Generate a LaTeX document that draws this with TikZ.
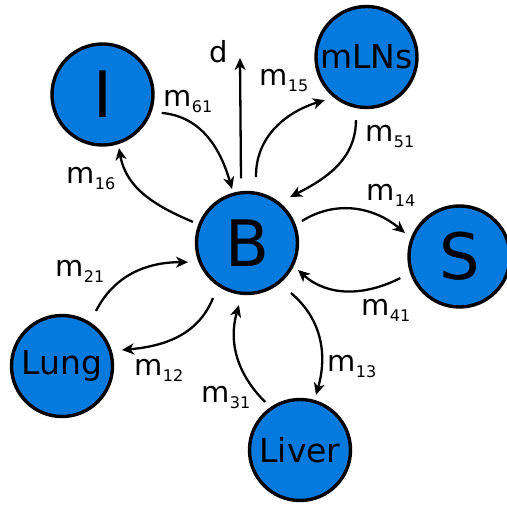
\documentclass[tikz,border=0pt]{standalone}
\usepackage{fontspec}
\setmainfont{DejaVu Sans}
\usetikzlibrary{arrows.meta}
\definecolor{compblue}{RGB}{4,122,222}
% transfer-rate label: m with a lowered index
\newcommand\mrate[1]{m\kern0.5pt\raisebox{-5.5pt}{\fontsize{16}{16}\selectfont #1}}

\begin{document}
\begin{tikzpicture}[x=1pt,y=1pt,
  comp/.style={circle, draw=black, line width=3.4pt, fill=compblue,
               minimum size=101pt, inner sep=0pt, outer sep=0pt},
  bigtxt/.style={font=\fontsize{64}{64}\selectfont},
  midtxt/.style={font=\fontsize{33}{33}\selectfont},
  flow/.style={-{Stealth[length=12pt,width=11pt,inset=3.5pt]}, line width=2.3pt},
  rate/.style={anchor=base west, inner sep=0pt, font=\fontsize{29}{29}\selectfont}]
\useasboundingbox (0,0) rectangle (507,-505);

% compartments
\node[comp, bigtxt] (B) at (247,-243) {B};
\node[comp, bigtxt] (I) at (102.5,-94.5) {I};
\node[comp, midtxt] (M) at (366.5,-57) {mLNs};
\node[comp, bigtxt] (S) at (459.5,-256.5) {S};
\node[comp, midtxt] (L) at (62,-366) {Lung};
\node[comp, midtxt] (V) at (300,-450) {Liver};

% loss from blood
\coordinate (dtip) at (240,-58);
\draw[flow] ([shift={(95.3:65pt)}]B.center) -- (dtip);

% exchanges between blood and organs
\draw[flow] ([shift={(-17.3:62pt)}]I.center) to[out=-5,in=106] ([shift={(105.5:56pt)}]B.center);
\draw[flow] ([shift={(158.7:58pt)}]B.center) to[out=157,in=-80] ([shift={(-72.9:56pt)}]I.center);
\draw[flow] ([shift={(82.2:66.6pt)}]B.center) to[out=91,in=197] ([shift={(-134:60pt)}]M.center);
\draw[flow] ([shift={(-99.5:64pt)}]M.center) to[out=-90,in=27] ([shift={(46.9:63pt)}]B.center);
\draw[flow] ([shift={(21.8:59.2pt)}]B.center) to[out=32,in=140] ([shift={(156.7:59.4pt)}]S.center);
\draw[flow] ([shift={(-160:63pt)}]S.center) to[out=-153,in=-42] ([shift={(-27.9:57.7pt)}]B.center);
\draw[flow] ([shift={(58.3:64.7pt)}]L.center) to[out=63,in=180] ([shift={(-162:62pt)}]B.center);
\draw[flow] ([shift={(-121.7:64.7pt)}]B.center) to[out=-112,in=5] ([shift={(15:62pt)}]L.center);
\draw[flow] ([shift={(-48.7:66.6pt)}]B.center) to[out=-40,in=74] ([shift={(73.8:57.3pt)}]V.center);
\draw[flow] ([shift={(126:59.4pt)}]V.center) to[out=135,in=-106] ([shift={(-97.4:62.5pt)}]B.center);

% labels
\node[rate] (ld)  at (209,-63)  {d};
\node[rate] (l61) at (163,-107) {\mrate{61}};
\node[rate] (l15) at (259,-86)  {\mrate{15}};
\node[rate] (l51) at (365,-142) {\mrate{51}};
\node[rate] (l16) at (66,-184)  {\mrate{16}};
\node[rate] (l14) at (366,-201) {\mrate{14}};
\node[rate] (l41) at (361,-316) {\mrate{41}};
\node[rate] (l21) at (55,-277)  {\mrate{21}};
\node[rate] (l12) at (134,-376) {\mrate{12}};
\node[rate] (l13) at (327,-372) {\mrate{13}};
\node[rate] (l31) at (201,-403) {\mrate{31}};
\end{tikzpicture}
\end{document}
